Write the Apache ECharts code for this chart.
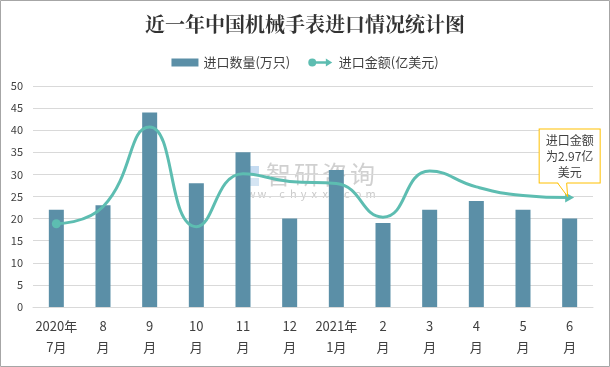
<!DOCTYPE html>
<html><head><meta charset="utf-8">
<script src="https://cdn.jsdelivr.net/npm/echarts@6/dist/echarts.min.js"></script>
<style>html,body{margin:0;padding:0;background:#fff}#c{width:610px;height:367px}</style>
</head><body><div id="c"></div>
<script>
var categories = ['2020年\n7月','8\n月','9\n月','10\n月','11\n月','12\n月','2021年\n1月','2\n月','3\n月','4\n月','5\n月','6\n月'];
var quantity = [22, 23, 44, 28, 35, 20, 31, 19, 22, 24, 22, 20];
var amount = [2.26, 2.72, 4.89, 2.18, 3.62, 3.41, 3.35, 2.44, 3.69, 3.26, 3.03, 2.97];
var yTicks = [0, 5, 10, 15, 20, 25, 30, 35, 40, 45, 50];

var font = '"Noto Sans CJK SC", "Microsoft YaHei", sans-serif';
var lineColor = '#5dbdb1';
var barColor = '#5b8fa7';
var amountData = amount.map(function (v, i) {
  if (i === 0) return { value: v, symbol: 'circle', symbolSize: 9 };
  if (i === amount.length - 1) return {
    value: v, symbol: 'triangle', symbolSize: [10, 9], symbolRotate: -90,
    label: {
      show: true, position: 'top', distance: 10, offset: [0, 0],
      formatter: '进口金额\n为2.97亿\n美元',
      backgroundColor: '#fff', borderColor: '#ffc000', borderWidth: 1,
      padding: [3, 6, 2, 6], lineHeight: 16, fontSize: 12, color: '#404040',
      fontFamily: font, align: 'center'
    }
  };
  return { value: v, symbol: 'none' };
});

// watermark characters, spaced individually
var wmGraphics = [];
'智研咨询'.split('').forEach(function (ch, i) {
  wmGraphics.push({ type: 'text', left: 266 + i * 28, top: 162, style: { text: ch, font: '25px ' + font, fill: 'rgba(150,150,150,0.45)' }, z: -1, silent: true });
});
'www.chyxx.com'.split('').forEach(function (ch, i) {
  wmGraphics.push({ type: 'text', left: 236 + i * 10.8, top: 188, style: { text: ch, font: '11px ' + font, fill: 'rgba(150,150,150,0.5)' }, z: -1, silent: true });
});

var chart = echarts.init(document.getElementById('c'), null, { renderer: 'canvas' });
var baseGraphic = [
  { type: 'rect', shape: { x: 0.5, y: 0.5, width: 609, height: 366 }, style: { fill: 'none', stroke: '#a6a6a6', lineWidth: 1 }, silent: true },
  { type: 'rect', shape: { x: 237, y: 166, width: 8, height: 20 }, style: { fill: 'rgba(110,165,220,0.4)' }, z: -1, silent: true },
  { type: 'rect', shape: { x: 248, y: 166, width: 11, height: 8 }, style: { fill: 'rgba(110,165,220,0.4)' }, z: -1, silent: true },
  { type: 'rect', shape: { x: 248, y: 178, width: 11, height: 8 }, style: { fill: 'rgba(150,190,225,0.4)' }, z: -1, silent: true }
].concat(wmGraphics);

var option = {
  animation: false,
  backgroundColor: '#fff',
  title: {
    text: '近一年中国机械手表进口情况统计图', left: 'center', top: 9,
    textStyle: { fontSize: 20, fontWeight: 'bold', color: '#333', fontFamily: '"Noto Serif CJK SC", "Noto Sans CJK SC", serif' }
  },
  legend: {
    top: 51, left: 'center', itemGap: 18,
    textStyle: { fontSize: 13, color: '#404040', fontFamily: font },
    data: [
      { name: '进口数量(万只)', icon: 'rect', itemStyle: { color: barColor } },
      { name: '进口金额(亿美元)', icon: 'path://M5,0A5,5 0 1,1 5,10A5,5 0 1,1 5,0Z M9,3.5L22,3.5L22,0L30,5L22,10L22,6.5L9,6.5Z', itemStyle: { color: lineColor } }
    ],
    itemWidth: 27, itemHeight: 8
  },
  grid: { left: 33, right: 17, top: 86, bottom: 60 },
  xAxis: {
    type: 'category', data: categories,
    axisLine: { lineStyle: { color: '#d9d9d9' } },
    axisTick: { show: false },
    axisLabel: { color: '#404040', fontSize: 13, lineHeight: 21, margin: 9, fontFamily: font, interval: 0 }
  },
  yAxis: [{
    type: 'value', min: yTicks[0], max: yTicks[yTicks.length - 1], interval: 5,
    axisLine: { show: false }, axisTick: { show: false },
    splitLine: { lineStyle: { color: '#d9d9d9' } },
    axisLabel: { color: '#404040', fontSize: 11, margin: 10, fontFamily: font }
  }, {
    type: 'value', min: 0, max: 6, show: false, splitLine: { show: false }
  }],
  series: [{
    name: '进口数量(万只)', type: 'bar', data: quantity, barWidth: 15,
    itemStyle: { color: barColor }
  }, {
    name: '进口金额(亿美元)', type: 'line', yAxisIndex: 1, data: amountData,
    smooth: 0.5, showSymbol: true,
    lineStyle: { color: lineColor, width: 3 },
    itemStyle: { color: lineColor },
    z: 5
  }],
  graphic: baseGraphic
};
chart.setOption(option);

var p = chart.convertToPixel({ seriesIndex: 1 }, [amount.length - 1, amount[amount.length - 1]]);
var by = p[1] - 14.5;
chart.setOption({
  graphic: baseGraphic.concat([
    { type: 'polygon', shape: { points: [[p[0] - 12, by - 1], [p[0] - 3, by - 1], [p[0] - 2, p[1] - 1]] }, style: { fill: '#fff', stroke: null }, z: 200, silent: true },
    { type: 'polyline', shape: { points: [[p[0] - 12, by], [p[0] - 2, p[1] - 1], [p[0] - 3, by]] }, style: { stroke: '#ffc000', fill: null, lineWidth: 1 }, z: 201, silent: true }
  ])
});
</script>
</body></html>
